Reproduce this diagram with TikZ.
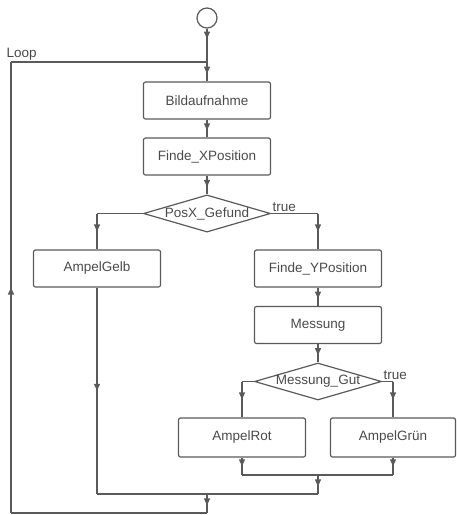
\documentclass[tikz,border=0pt]{standalone}
\usepackage{fontspec}
\setmainfont{Liberation Sans}
\usetikzlibrary{shapes.geometric, arrows.meta, decorations.markings}
\definecolor{linegray}{HTML}{5A5A5A}
\definecolor{textgray}{HTML}{4A4A4A}
\tikzset{
  wire/.style={draw=linegray, line width=1.2pt},
  flow/.style={wire, postaction={decorate},
    decoration={markings, mark=at position #1 with {\arrow{Triangle[width=6pt,length=7pt]}}}},
  flow/.default=0.6,
  action/.style={draw=linegray, line width=1.2pt, rounded corners=2pt, minimum width=127pt,
    minimum height=37pt, inner sep=0pt, text=textgray, font=\fontsize{13.5}{15}\selectfont},
  decision/.style={action, diamond, rounded corners=0pt, aspect=3.4},
  tag/.style={text=textgray, font=\fontsize{13.5}{15}\selectfont, inner sep=1pt}
}
\begin{document}
\begin{tikzpicture}[x=1pt, y=-1pt]
\useasboundingbox (0,0) rectangle (456,515);
% start and loop entry
\node[circle, draw=linegray, line width=1.2pt, minimum size=20pt, inner sep=0pt] (start) at (207,18) {};
\coordinate (loop) at (207,62);
\coordinate (backtop) at (11,62);
% main column
\node[action] (bild) at (207,100.5) {Bildaufnahme};
\node[action] (findx) at (207,156.5) {Finde\_XPosition};
\node[decision] (posx) at (207,213.5) {PosX\_Gefund};
\node[action] (gelb) at (97,268.5) {AmpelGelb};
\node[action] (findy) at (318,268.5) {Finde\_YPosition};
\node[action] (messung) at (318,325) {Messung};
\node[decision] (gut) at (318,381.5) {Messung\_Gut};
\node[action, minimum height=39pt] (rot) at (242,437.5) {AmpelRot};
\node[action, minimum width=125pt, minimum height=39pt] (gruen) at (393,437.5) {AmpelGrün};
% corners and joins
\coordinate (gl) at (gelb.north |- posx.west);
\coordinate (gr) at (findy.north |- posx.east);
\coordinate (rl) at (rot.north |- gut.west);
\coordinate (rr) at (gruen.north |- gut.east);
\coordinate (jrg) at (318,475);
\coordinate (jgelb) at (207,494);
\coordinate (jend) at (207,513);
\coordinate (back) at (11,513);

\draw[flow=0.3] (start) -- (loop);
\draw[flow] (loop) -- (bild);
\draw[flow] (bild) -- (findx);
\draw[flow] (findx) -- (posx);
\draw[wire] (posx.west) -- (gl);
\draw[flow=0.5] (gl) -- (gelb.north);
\draw[wire] (posx.east) -- node[tag, pos=0, anchor=south west] {true} (gr);
\draw[flow=0.5] (gr) -- (findy.north);
\draw[flow] (findy) -- (messung);
\draw[flow] (messung) -- (gut);
\draw[wire] (gut.west) -- (rl);
\draw[flow=0.5] (rl) -- (rot.north);
\draw[wire] (gut.east) -- node[tag, pos=0, anchor=south west] {true} (rr);
\draw[flow=0.5] (rr) -- (gruen.north);
% joining back
\draw[flow=0.5] (rot.south) -- (rot.south |- jrg);
\draw[flow=0.5] (gruen.south) -- (gruen.south |- jrg);
\draw[wire] (rot.south |- jrg) -- (gruen.south |- jrg);
\draw[flow=0.6] (jrg) -- (jrg |- jgelb);
\draw[flow=0.5] (gelb.south) -- (gelb.south |- jgelb);
\draw[wire] (gelb.south |- jgelb) -- (jrg |- jgelb);
\draw[flow=0.6] (jgelb) -- (jend);
\draw[wire] (jend) -- (back);
\draw[flow=0.5] (back) -- (backtop);
\draw[wire] (backtop) -- node[tag, pos=0, anchor=south west, xshift=-6pt] {Loop} (loop);
\end{tikzpicture}
\end{document}
